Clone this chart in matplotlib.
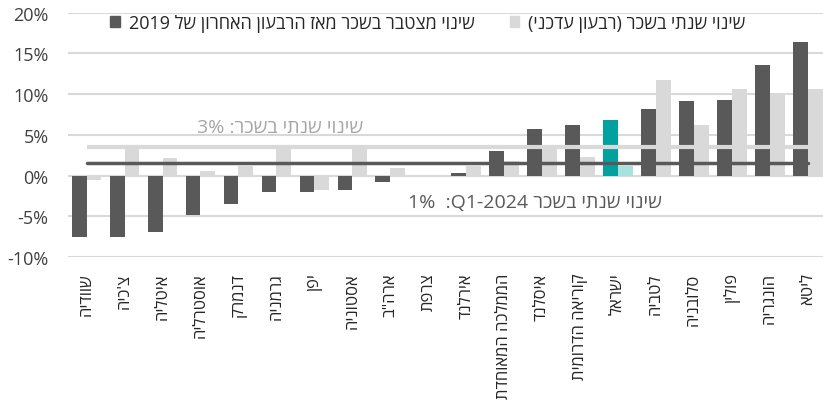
import re
import matplotlib
matplotlib.use("Agg")
import matplotlib.pyplot as plt
from matplotlib.patches import Patch

plt.rcParams['font.family'] = ['Open Sans', 'DejaVu Sans']

countries = ["שוודיה", "צ'כיה", "איטליה", "אוסטרליה", "דנמרק", "גרמניה", "יפן",
             "אסטוניה", 'ארה"ב', "צרפת", "אירלנד", "הממלכה המאוחדת", "איסלנד",
             "קוריאה הדרומית", "ישראל", "לטביה", "סלובניה", "פולין", "הונגריה", "ליטא"]
cumulative = [-7.5, -7.5, -6.9, -4.8, -3.5, -2.0, -2.0, -1.8, -0.8, -0.1, 0.3, 3.0,
              5.7, 6.2, 6.8, 8.2, 9.1, 9.3, 13.5, 16.4]
annual = [-0.6, 3.8, 2.2, 0.5, 1.2, 3.6, -1.8, 3.6, 0.9, -0.2, 1.2, 1.8,
          3.2, 2.3, 1.2, 11.7, 6.2, 10.6, 10.0, 10.6]
avg_annual = 3.5
avg_q1 = 1.5
highlight = "ישראל"

legend_cum = "שינוי מצטבר בשכר מאז הרבעון האחרון של 2019"
legend_ann = "שינוי שנתי בשכר (רבעון עדכני)"
label_ann = "שינוי שנתי בשכר: 3%"
label_q1 = "שינוי שנתי בשכר Q1-2024:  1%"
yticks = [-10, -5, 0, 5, 10, 15, 20]


def vis(s):
    r = s[::-1]
    r = re.sub(r'[A-Za-z0-9%\-\.]+', lambda m: m.group(0)[::-1], r)
    return r.translate(str.maketrans('()', ')('))


DARK = '#595959'
LIGHT = '#d9d9d9'
TEAL = '#00a19f'
LTEAL = '#a9e1de'

fig = plt.figure(figsize=(8.23, 4.10), dpi=100)
ax = fig.add_axes([68 / 823, 1 - 258 / 410, 755 / 823, (258 - 13.5) / 410])

n = len(countries)
x = list(range(n))
w = 0.39
dc = [TEAL if c == highlight else DARK for c in countries]
lc = [LTEAL if c == highlight else LIGHT for c in countries]
ax.bar([i - w / 2 for i in x], cumulative, width=w, color=dc, zorder=2)
ax.bar([i + w / 2 for i in x], annual, width=w, color=lc, zorder=2)

ax.plot([0, 19.6], [avg_annual, avg_annual], color=LIGHT, lw=3.0, zorder=4,
        solid_capstyle='butt')
ax.plot([0, 19], [avg_q1, avg_q1], color=DARK, lw=2.5, zorder=5,
        solid_capstyle='round')

ax.text(5.09, 5.9, vis(label_ann), color='#a6a6a6', fontsize=14,
        ha='center', va='center', zorder=6)
ax.text(11.8, -3.2, vis(label_q1), color=DARK, fontsize=14,
        ha='center', va='center', zorder=6)

ax.set_xlim(-0.49, 19.4)
ax.set_ylim(-10, 20)
ax.set_yticks(yticks)
ax.set_yticklabels([f"{v}%" for v in yticks], fontsize=13, color='#404040')
ax.set_xticks(x)
ax.set_xticklabels([vis(c) for c in countries], rotation=90, fontsize=12,
                   color='#262626')
ax.tick_params(axis='both', length=0)
ax.tick_params(axis='y', pad=14)
ax.tick_params(axis='x', pad=11)
ax.grid(axis='y', color=LIGHT, lw=1.5, zorder=0)
ax.set_axisbelow(True)
for s in ax.spines.values():
    s.set_visible(False)

handles = [Patch(color=DARK), Patch(color=LIGHT)]
leg = ax.legend(handles, [vis(legend_cum), vis(legend_ann)], ncol=2,
                loc='center', bbox_to_anchor=(0.477, 0.958), frameon=False,
                fontsize=13, handlelength=0.55, handleheight=0.55,
                handletextpad=0.5, columnspacing=1.9, borderpad=0)
for t in leg.get_texts():
    t.set_color('#262626')

fig.savefig("out.png", dpi=100)
